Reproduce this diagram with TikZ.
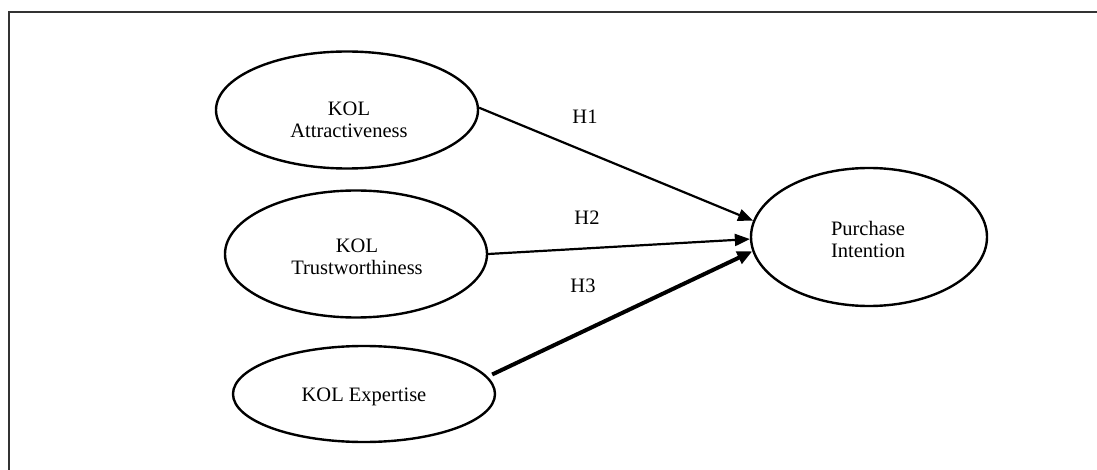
\documentclass[tikz,border=0pt]{standalone}
\usepackage{fontspec}
\setmainfont{Liberation Serif}
\usetikzlibrary{arrows.meta,shapes.geometric}
\begin{document}
\begin{tikzpicture}[x=1pt,y=-1pt,
  oval/.style={draw, ellipse, line width=2.4pt, inner sep=0pt},
  lbl/.style={font=\fontsize{20.5}{22}\selectfont, align=center, inner sep=0pt},
  link/.style={line width=2.2pt, -{Triangle[length=15pt,width=12pt]}},
  thick link/.style={line width=4pt, -{Triangle[length=15pt,width=13pt]}}]
\useasboundingbox (0,0) rectangle (1097,470);
\clip (0,0) rectangle (1097,470);
\draw[line width=1.6pt, black!80] (9,480) -- (9,12) -- (1110,12);

\node[oval, minimum width=262pt, minimum height=117pt] (e1) at (347,110) {};
\node[oval, minimum width=262pt, minimum height=127pt] (e2) at (356,254) {};
\node[oval, minimum width=262pt, minimum height=96pt] (e3) at (364,394) {};
\node[oval, minimum width=236pt, minimum height=138pt] (e4) at (869,237) {};

\node[lbl] (t1) at (349,120) {KOL\\Attractiveness};
\node[lbl] (t2) at (357,257) {KOL\\Trustworthiness};
\node[lbl] (t3) at (364,397) {KOL Expertise};
\node[lbl] (t4) at (868,239) {Purchase\\Intention};

\node[lbl] (h1) at (585,117) {H1};
\node[lbl] (h2) at (587,218) {H2};
\node[lbl] (h3) at (583,286) {H3};

\draw[link] (e1.1) -- (e4.172);
\draw[link] (e2.east) -- (e4.181);
\draw[thick link, shorten <=5pt] (e3.8) -- (e4.187);
\end{tikzpicture}
\end{document}
